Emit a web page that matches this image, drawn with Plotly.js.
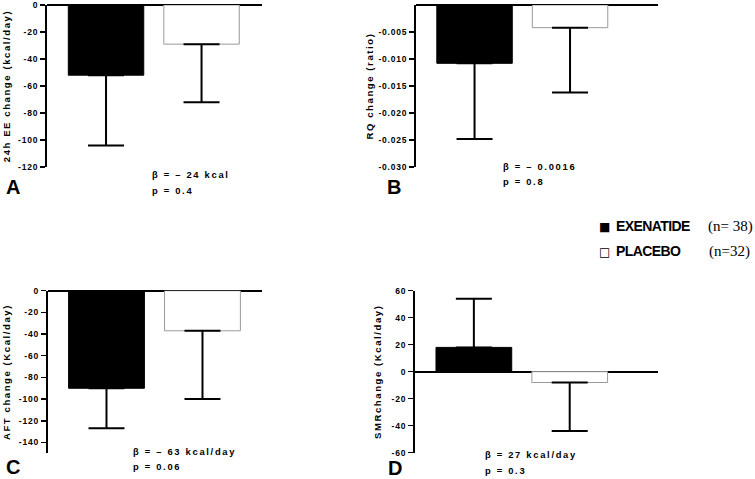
<!DOCTYPE html>
<html>
<head>
<meta charset="utf-8">
<script src="https://cdn.plot.ly/plotly-3.0.1.min.js"></script>
<style>
html,body{margin:0;padding:0;background:#fff;}
#chart{width:755px;height:479px;}
.ytick text,.y2tick text,.y3tick text,.y4tick text{letter-spacing:0.8px;}
text.ytitle,text.y2title,text.y3title,text.y4title{letter-spacing:1.6px;}
text.annotation-text[style*="font-size: 9.4px"]{letter-spacing:1.7px;}
text.annotation-text[style*="font-size: 14px"]{letter-spacing:-0.6px;}
</style>
</head>
<body>
<div id="chart"></div>
<script>
// ---- data ----
const groups = ['EXENATIDE', 'PLACEBO'];
const groupN = ['(n= 38)', '(n=32)'];

const eeMean = [-52, -29];
const eeSD = [52, 43];
const rqMean = [-0.0108, -0.0042];
const rqSD = [0.014, 0.012];
const aftMean = [-90, -37];
const aftSD = [37, 63];
const smrMean = [18, -8];
const smrSD = [36, 36];

const eeTickVals = [0, -20, -40, -60, -80, -100, -120];
const eeTickText = ['0', '-20', '-40', '-60', '-80', '-100', '-120'];
const rqTickVals = [-0.005, -0.010, -0.015, -0.020, -0.025, -0.030];
const rqTickText = ['-0.005', '-0.010', '-0.015', '-0.020', '-0.025', '-0.030'];
const aftTickVals = [0, -20, -40, -60, -80, -100, -120, -140];
const aftTickText = ['0', '-20', '-40', '-60', '-80', '-100', '-120', '-140'];
const smrTickVals = [60, 40, 20, 0, -20, -40, -60];
const smrTickText = ['60', '40', '20', '0', '-20', '-40', '-60'];

const yTitles = ['24h EE change (kcal/day)', 'RQ change (ratio)', 'AFT change (Kcal/day)', 'SMRchange (Kcal/day)'];
const panelLetters = ['A', 'B', 'C', 'D'];
const betaTexts = ['β = – 24 kcal', 'β = – 0.0016', 'β = – 63 kcal/day', 'β = 27 kcal/day'];
const pTexts = ['p = 0.4', 'p = 0.8', 'p = 0.06', 'p = 0.3'];

// ---- styling helpers ----
const FONT = 'Liberation Sans, Arial, sans-serif';
const W = 755, H = 479;
const px = x => x / W;
const py = y => 1 - y / H;

function barTrace(means, sds, xa, ya) {
  return {
    type: 'bar', x: groups, y: means, xaxis: xa, yaxis: ya, width: 0.79,
    marker: {color: ['#000000', '#ffffff'], line: {color: ['#000000', '#9a9a9a'], width: 1}},
    error_y: {
      type: 'data', symmetric: false,
      array: means.map((m, i) => m > 0 ? sds[i] : 0),
      arrayminus: means.map((m, i) => m < 0 ? sds[i] : 0),
      color: '#000000', thickness: 2, width: 18
    },
    showlegend: false, hoverinfo: 'skip'
  };
}

const data = [
  barTrace(eeMean, eeSD, 'x', 'y'),
  barTrace(rqMean, rqSD, 'x2', 'y2'),
  barTrace(aftMean, aftSD, 'x3', 'y3'),
  barTrace(smrMean, smrSD, 'x4', 'y4')
];

function xAxis(domain, range, anchor) {
  return {domain: domain, range: range, anchor: anchor, type: 'category',
    showline: false, showticklabels: false, ticks: '', showgrid: false, zeroline: false, fixedrange: true};
}
function yAxis(domain, range, anchor, tv, tt, title, standoff) {
  return {domain: domain, range: range, anchor: anchor,
    showline: true, linecolor: '#000', linewidth: 2, mirror: false,
    ticks: 'outside', ticklen: 5, tickwidth: 1.5, tickcolor: '#000',
    tickmode: 'array', tickvals: tv, ticktext: tt, ticklabeloverflow: 'allow',
    tickfont: {family: FONT, size: 8.5, weight: 700, color: '#000'},
    showgrid: false, zeroline: true, zerolinecolor: '#000', zerolinewidth: 2,
    fixedrange: true,
    title: {text: title, font: {family: FONT, size: 9.5, weight: 700, color: '#000'}, standoff: standoff}};
}

const annotations = [];
const statX = [150, 501, 131, 483];
const betaY = [174, 166, 451, 454];
const pY = [191, 181, 466, 470];
for (let i = 0; i < 4; i++) {
  annotations.push({xref: 'paper', yref: 'paper', x: px(statX[i]), y: py(betaY[i]), xanchor: 'left', yanchor: 'middle',
    text: betaTexts[i], showarrow: false, font: {family: FONT, size: 9.4, weight: 700, color: '#000'}});
  annotations.push({xref: 'paper', yref: 'paper', x: px(statX[i]), y: py(pY[i]), xanchor: 'left', yanchor: 'middle',
    text: pTexts[i], showarrow: false, font: {family: FONT, size: 9.4, weight: 700, color: '#000'}});
}
const letterX = [13, 394, 13, 395];
const letterY = [187, 187, 467, 468];
for (let i = 0; i < 4; i++) {
  annotations.push({xref: 'paper', yref: 'paper', x: px(letterX[i]), y: py(letterY[i]), xanchor: 'center', yanchor: 'middle',
    text: panelLetters[i], showarrow: false, borderpad: 0, font: {family: FONT, size: 20, weight: 700, color: '#000'}});
}
// legend
const legY = [226, 251];
const legSym = ['■', '□'];
const legNX = [706, 707];
for (let i = 0; i < 2; i++) {
  annotations.push({xref: 'paper', yref: 'paper', x: px(604.5), y: py(legY[i] + 1), xanchor: 'center', yanchor: 'middle',
    text: legSym[i], showarrow: false, font: {family: 'DejaVu Sans, sans-serif', size: 12, color: '#000'}});
  annotations.push({xref: 'paper', yref: 'paper', x: px(614), y: py(legY[i]), xanchor: 'left', yanchor: 'middle',
    text: groups[i], showarrow: false, font: {family: FONT, size: 14, weight: 700, color: '#000'}});
  annotations.push({xref: 'paper', yref: 'paper', x: px(legNX[i]), y: py(legY[i]), xanchor: 'left', yanchor: 'middle',
    text: groupN[i], showarrow: false, font: {family: 'Liberation Serif, Times New Roman, serif', size: 15, color: '#000'}});
}

const layout = {
  width: W, height: H,
  margin: {l: 0, r: 0, t: 0, b: 0},
  paper_bgcolor: '#fff', plot_bgcolor: 'rgba(0,0,0,0)',
  showlegend: false,
  bargap: 0.2,
  xaxis: xAxis([px(47), px(262)], [-0.618, 1.633], 'y'),
  yaxis: yAxis([py(167), py(5)], [-120, 0], 'x', eeTickVals, eeTickText, yTitles[0], 6),
  xaxis2: xAxis([px(416), px(658)], [-0.613, 1.921], 'y2'),
  yaxis2: yAxis([py(167), py(5)], [-0.030, 0], 'x2', rqTickVals, rqTickText, yTitles[1], 3),
  xaxis3: xAxis([px(47.7), px(262)], [-0.6125, 1.62], 'y3'),
  yaxis3: yAxis([py(453.3), py(290.7)], [-150, 0], 'x3', aftTickVals, aftTickText, yTitles[2], 6),
  xaxis4: xAxis([px(415), px(658)], [-0.614, 1.921], 'y4'),
  yaxis4: yAxis([py(452.7), py(290.7)], [-60, 60], 'x4', smrTickVals, smrTickText, yTitles[3], 8),
  annotations: annotations
};

Plotly.newPlot('chart', data, layout, {staticPlot: true, displayModeBar: false});
</script>
</body>
</html>
